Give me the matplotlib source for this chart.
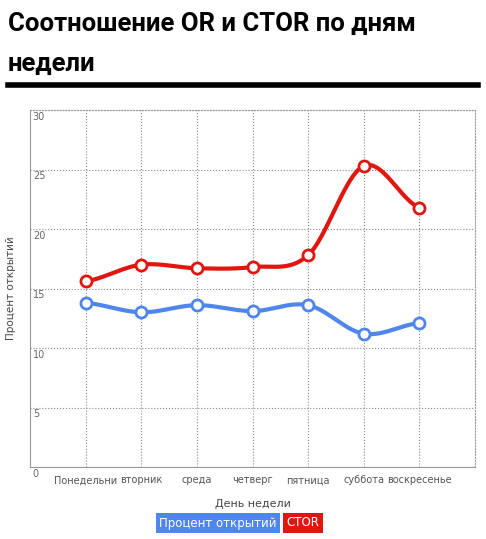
import matplotlib
matplotlib.use("Agg")
import matplotlib.pyplot as plt
import numpy as np

days = ["Понедельни", "вторник", "среда", "четверг", "пятница", "суббота", "воскресенье"]
open_rate = [13.8, 13.0, 13.6, 13.1, 13.6, 11.2, 12.1]
ctor = [15.6, 17.0, 16.7, 16.8, 17.8, 25.3, 21.8]
yticks = [0, 5, 10, 15, 20, 25, 30]

def smooth(x, y, n=30):
    x = np.asarray(x, float); y = np.asarray(y, float)
    xs, ys = [], []
    for i in range(len(x) - 1):
        p0 = y[max(i - 1, 0)]; p1 = y[i]; p2 = y[i + 1]; p3 = y[min(i + 2, len(y) - 1)]
        t = np.linspace(0, 1, n)
        m1 = (p2 - p0) / 2; m2 = (p3 - p1) / 2
        h00 = 2*t**3 - 3*t**2 + 1; h10 = t**3 - 2*t**2 + t
        h01 = -2*t**3 + 3*t**2; h11 = t**3 - t**2
        ys.append(h00*p1 + h10*m1 + h01*p2 + h11*m2)
        xs.append(x[i] + t*(x[i+1]-x[i]))
    return np.concatenate(xs), np.concatenate(ys)

fig = plt.figure(figsize=(4.86, 5.39), dpi=100)
ax = fig.add_axes([30/486, 1-467/539, 445/486, 357/539])
x = np.arange(len(days))
for vals, col in [(open_rate, "#4f86ec"), (ctor, "#e0160f")]:
    sx, sy = smooth(x, vals)
    ax.plot(sx, sy, color=col, lw=3, solid_capstyle="round", zorder=3)
    ax.plot(x, vals, "o", ms=8, mfc="white", mec=col, mew=2, zorder=4)

ax.set_xlim(-1, 7)
ax.set_ylim(0, 30)
ax.set_xticks(x)
ax.set_xticklabels(days, fontsize=7, color="#555")
ax.set_yticks(yticks)
ax.set_yticklabels([])
for v in yticks:
    ax.text(-0.95, v - 0.15, str(v), fontsize=7, color="#666", va="top", ha="left")
ax.tick_params(length=0, pad=6)
ax.grid(True, ls=":", color="#888", lw=0.8)
for s in ax.spines.values():
    s.set_color("#999"); s.set_linewidth(0.8)
ax.spines["top"].set_linestyle(":")
ax.spines["right"].set_linestyle(":")
ax.set_ylabel("Процент открытий", fontsize=7.5, color="#444", labelpad=4)
ax.set_xlabel("День недели", fontsize=8, color="#444", labelpad=10)

fig.text(8/486, 1-24/539, "Соотношение OR и CTOR по дням", fontsize=18.5, fontweight="bold",
         family="Roboto", va="center")
fig.text(8/486, 1-64/539, "недели", fontsize=18.5, fontweight="bold", family="Roboto", va="center")
fig.add_artist(plt.Line2D([8/486, 478/486], [1-85/539, 1-85/539], color="black", lw=4))

fig.text(218/486, 1-523/539, "Процент открытий", fontsize=8.5, color="white", ha="center", va="center",
         bbox=dict(boxstyle="square,pad=0.3", fc="#4f86ec", ec="none"))
fig.text(303/486, 1-523/539, "CTOR", fontsize=8.5, color="white", ha="center", va="center",
         bbox=dict(boxstyle="square,pad=0.3", fc="#e0160f", ec="none"))
fig.savefig("out.png", dpi=100)
